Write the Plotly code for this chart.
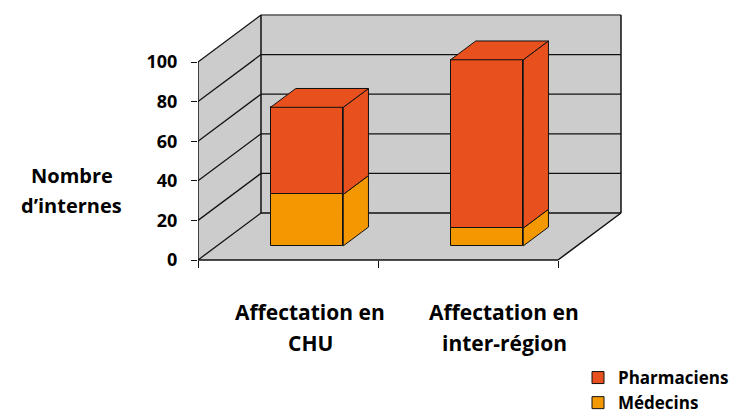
import plotly.graph_objects as go

# ---- data -------------------------------------------------------------
category_lines = [["Affectation en", "CHU"], ["Affectation en", "inter-région"]]
medecins = [26, 9]
pharmaciens = [44, 85]
y_ticks = [0, 20, 40, 60, 80, 100]

# ---- colours ----------------------------------------------------------
C_PHARMA = "#E8501E"
C_MED = "#F39800"
C_WALL = "#CCCCCC"
C_EDGE = "#111111"
FONT = "Open Sans"

# ---- layout geometry (pixels) ----------------------------------------
W, H = 734, 416
M_L, M_R, M_T, M_B = 198, 104, 10, 146
X_RANGE = [0, 2.4]
Y_RANGE = [-5.05, 126.26]

# oblique projection of the depth axis, in data units
DX, DY = 0.35, 23.74
Z_FRONT, Z_BACK = 0.30, 0.70       # bar slab within the depth
BAR_W = 0.404
N = len(category_lines)
centers = [i + 0.5 for i in range(N)]


def px_x(p):
    return (p - M_L) / (W - M_L - M_R)


def px_y(p):
    return (H - M_B - p) / (H - M_T - M_B)


def path(pts):
    return "M " + " L ".join(f"{x},{y}" for x, y in pts) + " Z"


shapes = []
# floor, left wall, back wall
vmax = y_ticks[-1]
walls = [
    [(0, 0), (N, 0), (N + DX, DY), (DX, DY)],
    [(0, 0), (DX, DY), (DX, vmax + DY), (0, vmax)],
    [(DX, DY), (N + DX, DY), (N + DX, vmax + DY), (DX, vmax + DY)],
]
for w in walls:
    shapes.append(dict(type="path", path=path(w), xref="x", yref="y",
                       fillcolor=C_WALL, line=dict(width=0), layer="below"))

# gridlines on back wall and left wall
for v in y_ticks:
    col = "#555555" if v == vmax else C_EDGE
    shapes.append(dict(type="line", xref="x", yref="y", x0=DX, y0=v + DY,
                       x1=N + DX, y1=v + DY, line=dict(color=col, width=1.3),
                       layer="below"))
    shapes.append(dict(type="line", xref="x", yref="y", x0=0, y0=v,
                       x1=DX, y1=v + DY, line=dict(color=C_EDGE, width=1.3),
                       layer="below"))

# box edges
edges = [
    ((0, 0), (0, vmax)),
    ((DX, DY), (DX, vmax + DY)),
    ((N + DX, DY), (N + DX, vmax + DY)),
    ((0, 0), (N, 0)),
    ((N, 0), (N + DX, DY)),
]
for (a, b) in edges:
    shapes.append(dict(type="line", xref="x", yref="y", x0=a[0], y0=a[1],
                       x1=b[0], y1=b[1], line=dict(color=C_EDGE, width=1.5),
                       layer="below"))

fig = go.Figure()

# ---- front faces of the stacked bars ----------------------------------
x_front = [c + Z_FRONT * DX for c in centers]
base0 = Z_FRONT * DY
series = [
    ("Pharmaciens", pharmaciens, C_PHARMA,
     [base0 + m for m in medecins]),
    ("Médecins", medecins, C_MED, [base0] * N),
]
for name, vals, col, bases in series:
    fig.add_trace(go.Bar(
        x=x_front, y=vals, base=bases, width=BAR_W, name=name,
        marker=dict(color=col, line=dict(color=C_EDGE, width=1)),
        hoverinfo="skip",
    ))

# ---- right and top faces ----------------------------------------------
dz = (Z_BACK - Z_FRONT)
for i, c in enumerate(centers):
    xr = c + BAR_W / 2 + Z_FRONT * DX
    xl = c - BAR_W / 2 + Z_FRONT * DX
    stack = [(medecins[i], C_MED), (pharmaciens[i], C_PHARMA)]
    y0 = base0
    for k, (v, col) in enumerate(stack):
        y1 = y0 + v
        side = [(xr, y0), (xr + dz * DX, y0 + dz * DY),
                (xr + dz * DX, y1 + dz * DY), (xr, y1), (xr, y0)]
        fig.add_trace(go.Scatter(
            x=[p[0] for p in side], y=[p[1] for p in side], mode="lines",
            fill="toself", fillcolor=col, line=dict(color=C_EDGE, width=1),
            showlegend=False, hoverinfo="skip"))
        if k == len(stack) - 1:
            top = [(xl, y1), (xr, y1), (xr + dz * DX, y1 + dz * DY),
                   (xl + dz * DX, y1 + dz * DY), (xl, y1)]
            fig.add_trace(go.Scatter(
                x=[p[0] for p in top], y=[p[1] for p in top], mode="lines",
                fill="toself", fillcolor=col,
                line=dict(color=C_EDGE, width=1),
                showlegend=False, hoverinfo="skip"))
        y0 = y1

# ---- text -------------------------------------------------------------
annotations = []
label_px = [310, 504]
for lines, xp in zip(category_lines, label_px):
    for j, t in enumerate(lines):
        annotations.append(dict(
            text=t, x=px_x(xp), y=px_y(312 + 31 * j), xref="paper",
            yref="paper", showarrow=False, xanchor="center", yanchor="middle",
            font=dict(family=FONT, size=21, color="black", weight="bold")))
for j, t in enumerate(["Nombre", "d’internes"]):
    annotations.append(dict(
        text=t, x=px_x(72), y=px_y(175 + 30 * j), xref="paper", yref="paper",
        showarrow=False, xanchor="center", yanchor="middle",
        font=dict(family=FONT, size=20, color="black", weight="bold")))

fig.update_layout(
    width=W, height=H,
    margin=dict(l=M_L, r=M_R, t=M_T, b=M_B, pad=0, autoexpand=False),
    paper_bgcolor="white", plot_bgcolor="rgba(0,0,0,0)",
    barmode="overlay", bargap=0,
    shapes=shapes, annotations=annotations,
    showlegend=True,
    legend=dict(xref="container", yref="container",
                x=578 / W, y=1 - 360 / H, xanchor="left", yanchor="top",
                font=dict(family=FONT, size=17, color="black", weight="bold"),
                bgcolor="rgba(0,0,0,0)", tracegroupgap=0, itemwidth=30,
                borderwidth=0),
    xaxis=dict(range=X_RANGE, tickvals=list(range(N + 1)), ticks="outside",
               ticklen=7, tickwidth=1.3, tickcolor=C_EDGE,
               showticklabels=False, showgrid=False, zeroline=False,
               showline=False, anchor="free",
               position=(0 - Y_RANGE[0]) / (Y_RANGE[1] - Y_RANGE[0]),
               fixedrange=True),
    yaxis=dict(range=Y_RANGE, tickvals=y_ticks, ticks="outside", ticklen=6,
               tickwidth=1.3, tickcolor=C_EDGE, showgrid=False,
               zeroline=False, showline=False, ticklabelstandoff=10,
               tickfont=dict(family=FONT, size=18, color="black",
                             weight="bold"),
               fixedrange=True),
)

fig.write_html("out.html")
